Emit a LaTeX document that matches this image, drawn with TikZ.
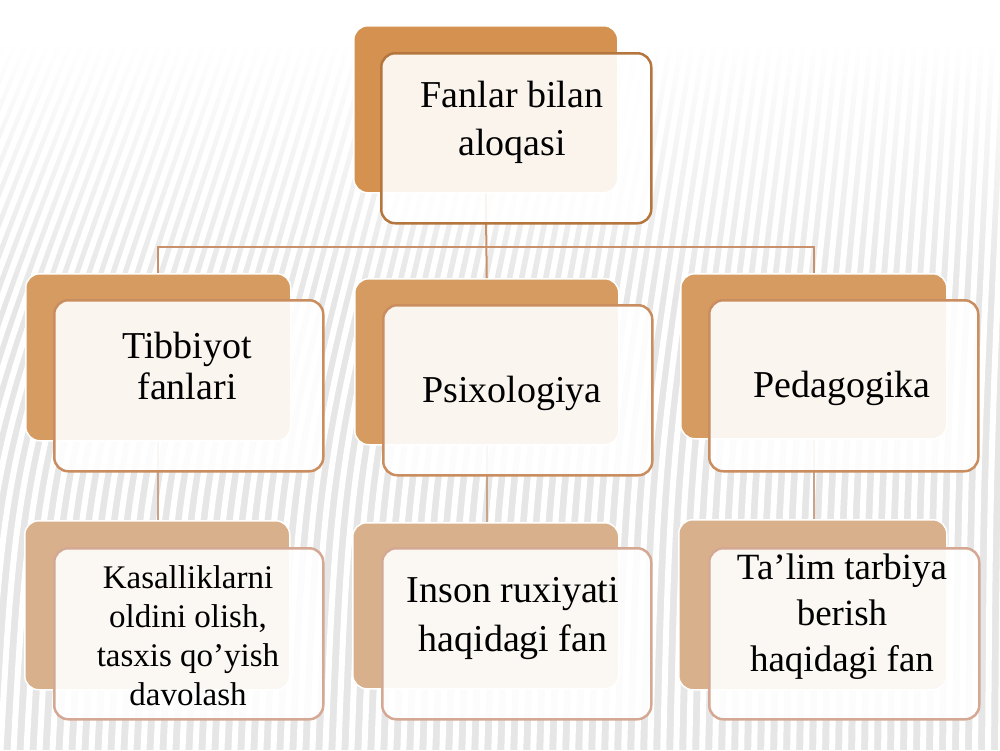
\documentclass[tikz,border=0pt]{standalone}
\usepackage{fontspec}
\setmainfont{Liberation Serif}
\definecolor{backA}{HTML}{D4914F}
\definecolor{backB}{HTML}{D59B60}
\definecolor{backC}{HTML}{D8B08B}
\definecolor{bordA}{HTML}{B4763C}
\definecolor{bordB}{HTML}{C98D5F}
\definecolor{bordC}{HTML}{D4A893}
\definecolor{conn}{HTML}{C8916B}
\definecolor{connB}{HTML}{CBA487}
\definecolor{bgray}{HTML}{E6E6E6}
\tikzset{
  box/.style={rectangle, rounded corners=14pt, anchor=north west, inner sep=0pt},
  backbox/.style={box, draw=white, line width=1.5pt},
  frontbox/.style={box, fill=white, fill opacity=0.9, line width=2.5pt},
  lbl/.style={align=center, anchor=north, inner sep=0pt, text=black},
  connector/.style={line width=2pt}
}
\begin{document}
\begin{tikzpicture}[x=1pt,y=-1pt]
\useasboundingbox (0,0) rectangle (1000,750);
% background
\begin{scope}
\clip (0,0) rectangle (1000,750);
\fill[white] (0,0) rectangle (1000,750);
\shade[top color=white, bottom color=bgray] (0,40) rectangle (1000,300);
\fill[bgray] (0,299) rectangle (1000,750);
\foreach \x in {-260,-247,...,1010} {
  \pgfmathsetmacro\s{170-0.15*\x}
  \draw[white, line width=6pt] (\x,760) .. controls (\x+0.1*\s,450) .. (\x+\s,30);
}
\end{scope}

% back boxes
\node[backbox, fill=backA, minimum width=264pt, minimum height=167pt] (b0) at (353,25) {};
\node[backbox, fill=backB, minimum width=265pt, minimum height=167pt] (b1) at (25,273) {};
\node[backbox, fill=backB, minimum width=264pt, minimum height=166pt] (b2) at (354,278) {};
\node[backbox, fill=backB, minimum width=266pt, minimum height=165pt] (b3) at (680,273) {};
\node[backbox, fill=backC, minimum width=265pt, minimum height=169pt] (c1) at (24,520) {};
\node[backbox, fill=backC, minimum width=266pt, minimum height=166pt] (c2) at (352,522) {};
\node[backbox, fill=backC, minimum width=268pt, minimum height=170pt] (c3) at (678,519) {};

% connectors
\coordinate (j) at (486,247);
\draw[connector, conn] (b0.south) -- (b2.north);
\draw[connector, conn] (b1.north) |- (j) -| (b3.north);
\draw[connector, connB] (b1.south) -- (b1.south |- c1.north);
\draw[connector, connB] (b2.south) -- (b2.south |- c2.north);
\draw[connector, connB] (b3.south) -- (b3.south |- c3.north);

% front boxes
\node[frontbox, draw=bordA, minimum width=270pt, minimum height=170pt] (f0) at (380,52) {};
\node[frontbox, draw=bordB, minimum width=269pt, minimum height=171pt] (f1) at (53,299) {};
\node[frontbox, draw=bordB, minimum width=269pt, minimum height=170pt] (f2) at (382,304) {};
\node[frontbox, draw=bordB, minimum width=269pt, minimum height=171pt] (f3) at (708,299) {};
\node[frontbox, draw=bordC, minimum width=269pt, minimum height=171pt] (g1) at (53,547) {};
\node[frontbox, draw=bordC, minimum width=269pt, minimum height=171pt] (g2) at (381,547) {};
\node[frontbox, draw=bordC, minimum width=270pt, minimum height=171pt] (g3) at (708,547) {};

% texts
\node[lbl, font=\fontsize{38}{48}\selectfont] (t0) at (512,81) {Fanlar bilan\\aloqasi};
\node[lbl, font=\fontsize{38}{41}\selectfont] (t1) at (187,332) {Tibbiyot\\fanlari};
\node[lbl, font=\fontsize{38}{46}\selectfont] (t2) at (512,376) {Psixologiya};
\node[lbl, font=\fontsize{38}{46}\selectfont] (t3) at (842,371) {Pedagogika};
\node[lbl, font=\fontsize{33}{39}\selectfont] (u1) at (188,565) {Kasalliklarni\\oldini olish,\\tasxis qo’yish\\davolash};
\node[lbl, font=\fontsize{38}{49}\selectfont] (u2) at (513,577) {Inson ruxiyati\\haqidagi fan};
\node[lbl, font=\fontsize{37}{46}\selectfont] (u3) at (842,554) {Ta’lim tarbiya\\berish\\haqidagi fan};
\end{tikzpicture}
\end{document}
